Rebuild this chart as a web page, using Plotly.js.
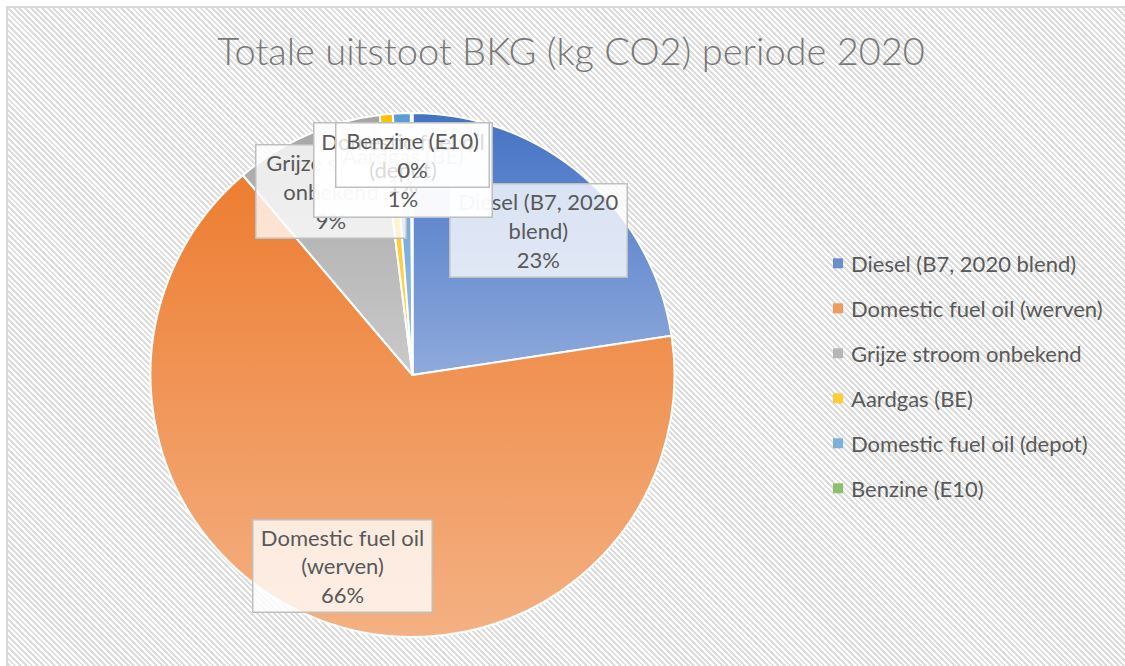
<!DOCTYPE html>
<html>
<head>
<meta charset="utf-8">
<script src="https://cdn.plot.ly/plotly-3.0.1.min.js"></script>
<style>
  html, body { margin: 0; padding: 0; background: #fff; overflow: hidden; }
  #frame {
    position: absolute; left: 6px; top: 6px; width: 1125px; height: 666px;
    border-left: 2px solid #d9d9d9; border-top: 2px solid #d9d9d9;
    background: repeating-linear-gradient(45deg, #ffffff 0px, #ffffff 2px, #dddddd 2px, #dddddd 4px);
  }
  #chart { position: absolute; left: 0; top: 0; width: 1125px; height: 666px; }
</style>
</head>
<body>
<div id="frame"></div>
<div id="chart"></div>
<script>
// share of total emissions per source (kg CO2, read as %)
const categories = ['Diesel (B7, 2020 blend)', 'Domestic fuel oil (werven)', 'Grijze stroom onbekend',
                    'Aardgas (BE)', 'Domestic fuel oil (depot)', 'Benzine (E10)'];
const emissions = [22.6, 66.2, 9.2, 0.8, 1.1, 0.1];
const labelLines = ['Diesel (B7, 2020<br>blend)', 'Domestic fuel oil<br>(werven)', 'Grijze stroom<br>onbekend',
                    'Aardgas (BE)', 'Domestic fuel oil<br>(depot)', 'Benzine (E10)'];

const W = 1125, H = 666;
const px = p => p / W;
const py = p => 1 - p / H;

const topColors = ['#4472C4', '#ED7D31', '#A5A5A5', '#FFC000', '#5B9BD5', '#70AD47'];
const bottomColors = ['#8FAADC', '#F4B183', '#CACACA', '#FFD966', '#9DC3E6', '#A9D18E'];
const midColors = ['#6A8ED0', '#F09A5C', '#B7B7B7', '#FFCC33', '#7CAFDD', '#8DC06A'];

// callout boxes (center x, center y, width, height) in pixels
const calloutBoxes = [
    [538, 230, 179, 95],
    [342, 566, 181, 94],
    [331, 192, 152, 95],
    [403, 170, 180, 96],
    [403, 170, 180, 96],
    [412, 155, 155, 66]
];

const total = emissions.reduce((s, v) => s + v, 0);
const font = 'Lato, "Open Sans", sans-serif';

const trace = {
    type: 'pie',
    labels: categories,
    values: emissions,
    sort: false,
    direction: 'clockwise',
    rotation: 0,
    textinfo: 'none',
    hoverinfo: 'label+percent',
    marker: { colors: midColors, line: { color: '#ffffff', width: 2 } },
    domain: { x: [px(150.5), px(674.5)], y: [py(637), py(113)] },
    showlegend: false
};

const annotations = [];
categories.forEach((cat, i) => {
    const b = calloutBoxes[i];
    const pct = Math.round(emissions[i] / total * 100) + '%';
    annotations.push({
        xref: 'paper', yref: 'paper',
        x: px(b[0]), y: py(b[1]),
        xanchor: 'center', yanchor: 'middle',
        text: labelLines[i] + '<br>' + pct,
        showarrow: false,
        align: 'center', valign: 'middle',
        width: b[2] - 3, height: b[3] - 3,
        bgcolor: 'rgba(255,255,255,0.78)',
        bordercolor: '#bfbfbf', borderwidth: 1.5, borderpad: 0,
        font: { family: font, size: 22, color: '#595959' }
    });
});

// legend drawn by hand to get Excel's row spacing
const shapes = [];
categories.forEach((cat, i) => {
    const cy = 263.3 + i * 45;
    shapes.push({
        type: 'rect', xref: 'paper', yref: 'paper',
        x0: px(833), x1: px(843), y0: py(cy + 5), y1: py(cy - 5),
        fillcolor: midColors[i], line: { width: 0 }
    });
    annotations.push({
        xref: 'paper', yref: 'paper',
        x: px(849), y: py(cy),
        xanchor: 'left', yanchor: 'middle',
        text: cat, showarrow: false,
        font: { family: font, size: 22, color: '#595959' }
    });
});

const layout = {
    width: W,
    height: H,
    margin: { t: 0, b: 0, l: 0, r: 0 },
    paper_bgcolor: 'rgba(0,0,0,0)',
    plot_bgcolor: 'rgba(0,0,0,0)',
    title: {
        text: 'Totale uitstoot BKG (kg CO2) periode 2020',
        x: px(571), xanchor: 'center',
        y: 1 - 52 / H, yanchor: 'middle',
        font: { family: '"Lato Light", Lato, sans-serif', weight: 300, size: 38, color: '#787878' }
    },
    showlegend: false,
    annotations: annotations,
    shapes: shapes
};

Plotly.newPlot('chart', [trace], layout, { staticPlot: true }).then(gd => {
    // Excel style vertical gradient on each slice
    const ns = 'http://www.w3.org/2000/svg';
    const svg = gd.querySelector('svg.main-svg');
    const defs = svg.querySelector('defs');
    gd.querySelectorAll('g.slice').forEach((slice, k) => {
        const d = slice.__data__;
        const i = d && d.i !== undefined ? d.i : k;
        const grad = document.createElementNS(ns, 'linearGradient');
        grad.setAttribute('id', 'slice-grad-' + i);
        grad.setAttribute('x1', '0'); grad.setAttribute('y1', '0');
        grad.setAttribute('x2', '0'); grad.setAttribute('y2', '1');
        [[0, topColors[i]], [1, bottomColors[i]]].forEach(([off, col]) => {
            const stop = document.createElementNS(ns, 'stop');
            stop.setAttribute('offset', off);
            stop.setAttribute('stop-color', col);
            grad.appendChild(stop);
        });
        defs.appendChild(grad);
        const path = slice.querySelector('path.surface');
        if (path) path.style.fill = 'url(#slice-grad-' + i + ')';
    });
});
</script>
</body>
</html>
